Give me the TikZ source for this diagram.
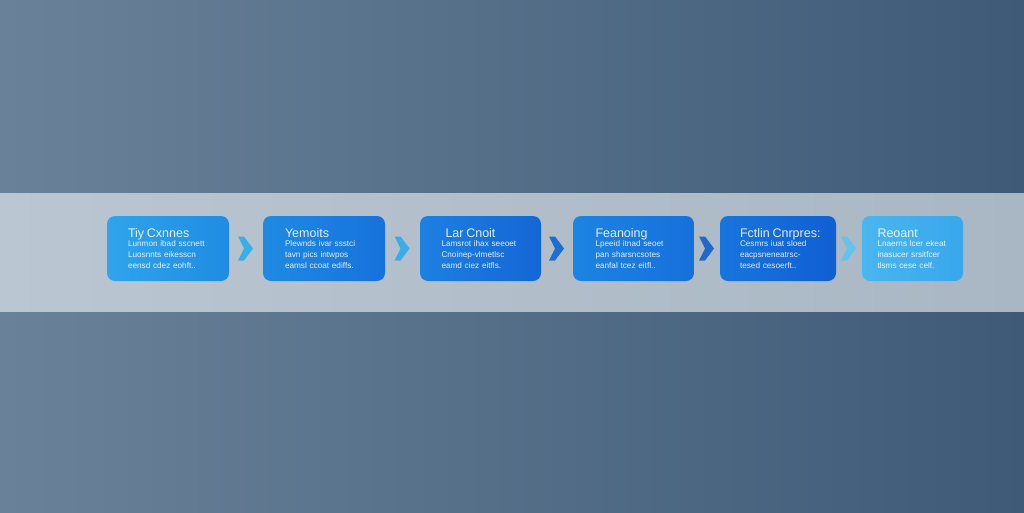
\documentclass[tikz,border=0pt]{standalone}
\usepackage{fontspec}
\setmainfont{Liberation Sans}
\usetikzlibrary{positioning,calc}

\definecolor{bgleft}{HTML}{6A8299}
\definecolor{bgright}{HTML}{3E5A77}
\definecolor{bandleft}{HTML}{BAC6D1}
\definecolor{bandright}{HTML}{A9B7C4}
\definecolor{tiyl}{HTML}{30A4EC}  \definecolor{tiyr}{HTML}{1E8CE3}
\definecolor{yemol}{HTML}{1F8AE3} \definecolor{yemor}{HTML}{1672DC}
\definecolor{larl}{HTML}{1D80E2}  \definecolor{larr}{HTML}{1466D6}
\definecolor{feanl}{HTML}{1C84E2} \definecolor{feanr}{HTML}{1670DC}
\definecolor{fctl}{HTML}{1875DE}  \definecolor{fctr}{HTML}{105FD3}
\definecolor{reol}{HTML}{4AB6EF}  \definecolor{reor}{HTML}{38A7EC}

\tikzset{
  stage/.style={rounded corners=8pt, minimum height=65pt, inner sep=0pt,
    align=left, text=white, text opacity=0.88, font=\fontsize{8.2}{11}\selectfont},
  chev/.style={draw=none},
}
\newcommand{\stagetitle}[1]{{\fontsize{12.5}{13}\selectfont\mbox{#1}}\\[-2pt]}

\begin{document}
\begin{tikzpicture}[x=1pt,y=-1pt]
    \useasboundingbox (0,0) rectangle (1024,512);

    % Background
    \shade[left color=bgleft, right color=bgright] (0,0) rectangle (1024,512);
    \shade[left color=bandleft, right color=bandright] (0,193) rectangle (1024,311);

    % Stages
    \node[stage, minimum width=122pt, text width=80pt,
          left color=tiyl, right color=tiyr] (tiy) at (168,248.5)
      {\stagetitle{Tiy Cxnnes}Lunmon ibad sscnett\\ Luosnnts eikesscn\\ eensd cdez eohft..};
    \node[stage, minimum width=122pt, text width=78pt,
          left color=yemol, right color=yemor] (yemo) at (324,248.5)
      {\stagetitle{Yemoits}Plewnds ivar ssstci\\ tavn pics intwpos\\ eamsl ccoat ediffs.};
    \node[stage, minimum width=121pt, text width=78pt,
          left color=larl, right color=larr] (lar) at (480.5,248.5)
      {\stagetitle{\hspace*{4pt}Lar Cnoit}Lamsrot ihax seeoet\\ Cnoinep-vlmetlsc\\ eamd ciez eitfls.};
    \node[stage, minimum width=121pt, text width=76pt,
          left color=feanl, right color=feanr] (fean) at (633.5,248.5)
      {\stagetitle{Feanoing}Lpeeid itnad seoet\\ pan sharsncsotes\\ eanfal tcez eitfl..};
    \node[stage, minimum width=116pt, text width=76pt,
          left color=fctl, right color=fctr] (fct) at (778,248.5)
      {\stagetitle{Fctlin Cnrpres:}Cesmrs iuat sloed\\ eacpsneneatrsc-\\ tesed cesoerft..};
    \node[stage, minimum width=101pt, text width=70pt,
          left color=reol, right color=reor] (reo) at (912.5,248.5)
      {\stagetitle{Reoant}Lnaerns lcer ekeat\\ inasucer srsitfcer\\ tlsms cese celf.};

    % Chevrons between stages
    \foreach \a/\b/\col in {tiy/yemo/3AAEE8, yemo/lar/3AACE8, lar/fean/1C6FD0,
                            fean/fct/1F6AC8, fct/reo/62C3EE} {
        \definecolor{chevcol}{HTML}{\col}
        \coordinate (m) at ($(\a.east)!0.5!(\b.west)$);
        \fill[chev, chevcol] ($(m)+(-8,-12)$) -- ($(m)+(-2,-12)$) -- ($(m)+(7,0)$)
            -- ($(m)+(-2,12)$) -- ($(m)+(-8,12)$) -- ($(m)+(-2,0)$) -- cycle;
    }
\end{tikzpicture}
\end{document}
